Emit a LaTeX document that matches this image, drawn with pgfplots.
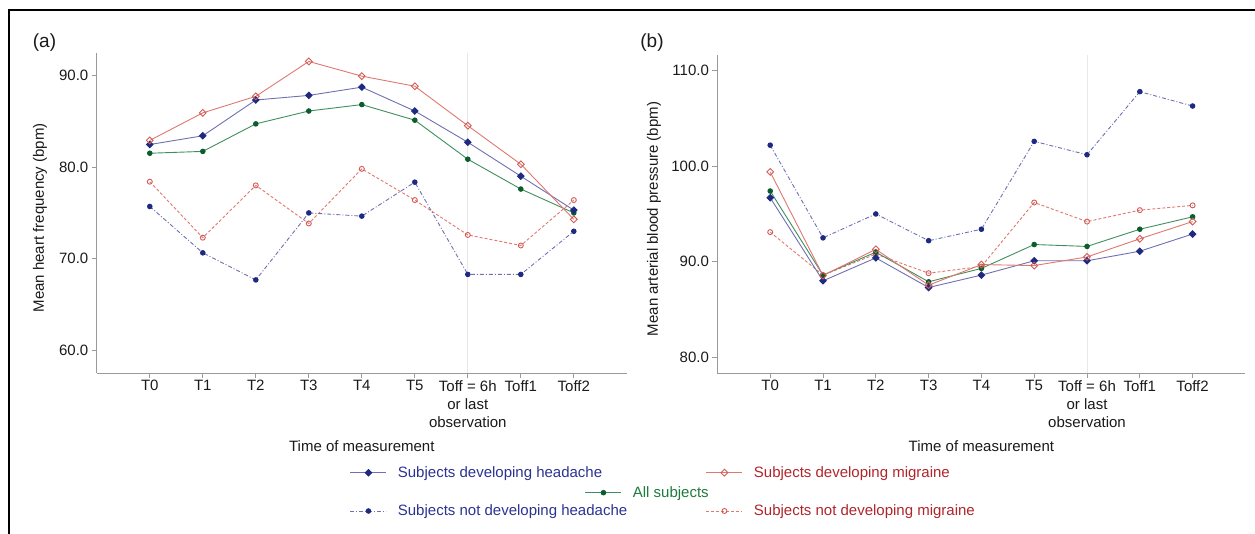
\documentclass[border=0pt]{standalone}
\usepackage{pgfplots}
\usepackage{pgfplotstable}
\usepackage{fontspec}
\setmainfont{Liberation Sans}
\pgfplotsset{compat=1.18}

\definecolor{axisgray}{HTML}{9A9A9A}
\definecolor{vline}{HTML}{E8E8E8}
\definecolor{hdline}{HTML}{6E70B2}
\definecolor{hdmark}{HTML}{1E2A82}
\definecolor{hdtext}{HTML}{2B3391}
\definecolor{mgline}{HTML}{E07870}
\definecolor{mgmark}{HTML}{D45A55}
\definecolor{mgtext}{HTML}{B0252B}
\definecolor{alline}{HTML}{3F8F5E}
\definecolor{almark}{HTML}{0B5E2C}
\definecolor{altext}{HTML}{1E7B3C}
\definecolor{txt}{HTML}{1A1A1A}

\newcommand{\fs}{\fontsize{15}{18}\selectfont}

% heart rate, panel (a)
\pgfplotstableread{
x hd mg all nhd nmg
0 82.45 82.9 81.5  75.7  78.4
1 83.4  85.9 81.7  70.65 72.3
2 87.3  87.7 84.7  67.7  78.0
3 87.8  91.5 86.1  75.0  73.85
4 88.7  89.9 86.8  74.65 79.8
5 86.1  88.8 85.1  78.35 76.4
6 82.7  84.5 80.85 68.3  72.6
7 79.0  80.3 77.6  68.3  71.45
8 75.3  74.3 75.0  73.0  76.4
}\hrdata

% mean arterial pressure, panel (b)
\pgfplotstableread{
x hd mg all nhd nmg
0 96.7 99.4  97.4 102.2 93.1
1 88.0 88.55 88.6 92.5  88.6
2 90.4 91.3  91.0 95.0  90.8
3 87.3 87.55 87.9 92.2  88.8
4 88.6 89.7  89.3 93.4  89.5
5 90.1 89.6  91.8 102.6 96.2
6 90.1 90.5  91.6 101.2 94.2
7 91.1 92.4  93.4 107.8 95.4
8 92.9 94.2  94.7 106.3 95.9
}\mapdata

\pgfplotsset{
  panel/.style={
    scale only axis,
    axis x line*=bottom, axis y line*=left,
    axis line style={draw=axisgray, line width=0.8pt, -},
    every outer x axis line/.append style={-},
    every outer y axis line/.append style={-},
    major tick style={draw=axisgray, line width=0.8pt},
    tick align=outside, major tick length=5pt,
    xmin=-1, xmax=9, xtick={0,...,8},
    xticklabels={T0,T1,T2,T3,T4,T5,{Toff = 6h\\or last\\observation},Toff1,Toff2},
    x tick label style={align=center, font=\fs, text=txt, inner sep=2pt},
    y tick label style={font=\fs, text=txt},
    /pgf/number format/fixed, /pgf/number format/fixed zerofill,
    /pgf/number format/precision=1, /pgf/number format/assume math mode=true,
    label style={font=\fs, text=txt},
    xlabel={Time of measurement},
    extra x ticks={6}, extra x tick labels={},
    extra x tick style={grid=major, major grid style={draw=vline, line width=0.8pt}, major tick length=0pt},
    clip=false,
  },
  hd/.style={draw=hdline, line width=0.9pt, mark=square*, mark size=2.3pt, mark options={solid, rotate=45, fill=hdmark, draw=hdmark}},
  mg/.style={draw=mgline, line width=0.9pt, mark=square, mark size=2.4pt, mark options={solid, rotate=45, draw=mgmark, fill=white}},
  al/.style={draw=alline, line width=0.9pt, mark=*, mark size=2.3pt, mark options={solid, fill=almark, draw=almark}},
  nhd/.style={draw=hdline, line width=0.9pt, dash pattern=on 4pt off 2pt on 1pt off 2pt, mark=*, mark size=2.3pt, mark options={solid, fill=hdmark, draw=hdmark}},
  nmg/.style={draw=mgline, line width=0.9pt, dash pattern=on 3pt off 2pt, mark=o, mark size=2.5pt, mark options={solid, draw=mgmark, fill=white}},
  leg/.style={
    hide axis, scale only axis, width=1pt, height=1pt,
    xmin=0, xmax=1, ymin=0, ymax=1, anchor=south west,
    legend image code/.code={\draw[mark repeat=2, mark phase=2] plot coordinates {(0pt,0pt) (18pt,0pt) (36pt,0pt)};},
    legend style={draw=none, fill=none, inner sep=0pt, outer sep=0pt,
      at={(0,0)}, anchor=west, font=\fs, nodes={inner sep=0pt},
      /tikz/every odd column/.append style={column sep=11pt}},
  },
}

\begin{document}
\begin{tikzpicture}
\path[use as bounding box] (0pt,0pt) rectangle (1255pt,-534pt);
\draw[line width=2.2pt] (9pt,-534pt) -- (9pt,-10pt) -- (1255pt,-10pt);

\node[font=\fontsize{19}{22}\selectfont, text=txt] at (44.5pt,-43pt) {(a)};
\node[font=\fontsize{19}{22}\selectfont, text=txt] at (652pt,-43pt) {(b)};

% panel (a)
\begin{axis}[panel, at={(96.8pt,-373pt)}, anchor=south west,
  width=530pt, height=320pt, ymin=57.56, ymax=92.42, ytick={60,70,80,90},
  ylabel={Mean heart frequency (bpm)},
  ylabel style={at={(axis description cs:-0.1072,0.485)}, anchor=center},
  xlabel style={at={(axis description cs:0.5,-0.228)}, anchor=center}]
\addplot[nmg] table[x=x, y=nmg] {\hrdata};
\addplot[nhd] table[x=x, y=nhd] {\hrdata};
\addplot[al] table[x=x, y=all] {\hrdata};
\addplot[hd] table[x=x, y=hd] {\hrdata};
\addplot[mg] table[x=x, y=mg] {\hrdata};
\end{axis}

% panel (b)
\begin{axis}[panel, at={(717.4pt,-373.3pt)}, anchor=south west,
  width=528pt, height=318.3pt, ymin=78.32, ymax=111.64, ytick={80,90,100,110},
  ylabel={Mean arterial blood pressure (bpm)},
  ylabel style={at={(axis description cs:-0.12,0.485)}, anchor=center},
  xlabel style={at={(axis description cs:0.5,-0.2296)}, anchor=center}]
\addplot[nmg] table[x=x, y=nmg] {\mapdata};
\addplot[nhd] table[x=x, y=nhd] {\mapdata};
\addplot[al] table[x=x, y=all] {\mapdata};
\addplot[hd] table[x=x, y=hd] {\mapdata};
\addplot[mg] table[x=x, y=mg] {\mapdata};
\end{axis}

% legend entries
\begin{axis}[leg, at={(350pt,-472.7pt)}]
\addlegendimage{hd}
\addlegendentry{\textcolor{hdtext}{Subjects developing headache}}
\end{axis}
\begin{axis}[leg, at={(706pt,-472.7pt)}]
\addlegendimage{mg}
\addlegendentry{\textcolor{mgtext}{Subjects developing migraine}}
\end{axis}
\begin{axis}[leg, at={(585pt,-492.7pt)}]
\addlegendimage{al}
\addlegendentry{\textcolor{altext}{All subjects}}
\end{axis}
\begin{axis}[leg, at={(350pt,-511pt)}]
\addlegendimage{nhd}
\addlegendentry{\textcolor{hdtext}{Subjects not developing headache}}
\end{axis}
\begin{axis}[leg, at={(706pt,-511pt)}]
\addlegendimage{nmg}
\addlegendentry{\textcolor{mgtext}{Subjects not developing migraine}}
\end{axis}
\end{tikzpicture}
\end{document}
